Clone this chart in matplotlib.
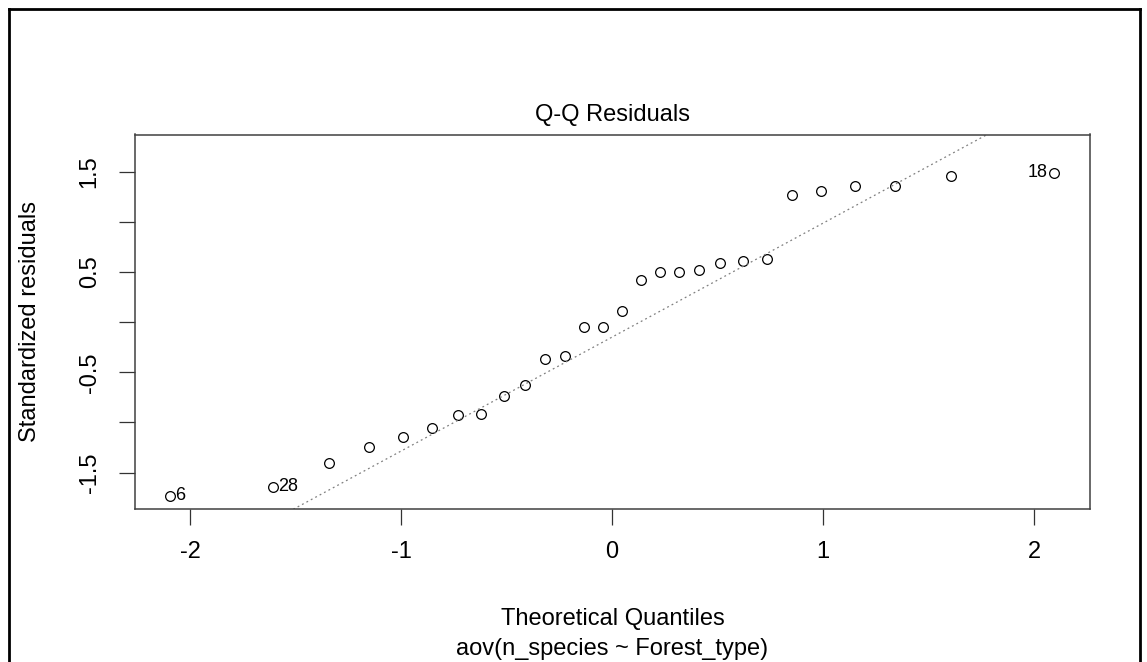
import numpy as np
import matplotlib
matplotlib.use("Agg")
import matplotlib.pyplot as plt
from matplotlib.lines import Line2D

plt.rcParams["font.family"] = ["Liberation Sans", "DejaVu Sans"]

# theoretical normal quantiles (x) and standardized residuals (y), sorted
theoretical = [-2.095, -1.608, -1.343, -1.150, -0.992, -0.854, -0.732, -0.619,
               -0.514, -0.414, -0.319, -0.225, -0.135, -0.045, 0.045, 0.135,
               0.225, 0.319, 0.414, 0.514, 0.619, 0.732, 0.854, 0.992,
               1.150, 1.343, 1.608, 2.095]
std_resid = [-1.731, -1.642, -1.408, -1.245, -1.146, -1.059, -0.926, -0.913,
             -0.737, -0.627, -0.370, -0.337, -0.045, -0.045, 0.112, 0.424,
             0.501, 0.501, 0.524, 0.591, 0.614, 0.628, 1.272, 1.312,
             1.362, 1.362, 1.462, 1.492]
# flagged observations: (index in sorted order, label, side)
flagged = [(0, "6", "right"), (1, "28", "right"), (27, "18", "left")]

xticks = [-2, -1, 0, 1, 2]
yticks = [-1.5, -1.0, -0.5, 0.0, 0.5, 1.0, 1.5]
ytick_labels = ["-1.5", "", "-0.5", "", "0.5", "", "1.5"]

W, H = 1147, 662
fig = plt.figure(figsize=(W / 100, H / 100), dpi=100)
ax = fig.add_axes([134.7 / W, 1 - 509.3 / H, (1090 - 134.7) / W, (509.3 - 134.5) / H])

ax.plot(theoretical, std_resid, linestyle="none", marker="o", markersize=7,
        markerfacecolor="none", markeredgecolor="black", markeredgewidth=0.9)

# qqline through the quartiles
q25, q75 = np.quantile(std_resid, [0.25, 0.75])
z = 0.6745
slope = (q75 - q25) / (2 * z)
intercept = q25 + slope * z
ax.axline((0, intercept), slope=slope, color="#808080", linewidth=0.9,
          linestyle=(0, (1.5, 2.5)))

for i, lab, side in flagged:
    dx = 4 if side == "right" else -5
    ax.annotate(lab, (theoretical[i], std_resid[i]), xytext=(dx, 0),
                textcoords="offset points", ha="left" if side == "right" else "right",
                va="center", fontsize=13)

ax.set_xlim(-2.262, 2.265)
ax.set_ylim(-1.867, 1.872)
ax.set_xticks(xticks)
ax.set_xticklabels([str(t) for t in xticks])
ax.set_yticks(yticks)
ax.set_yticklabels(ytick_labels)
ax.tick_params(axis="both", direction="out", length=11.5, width=0.9,
               color="#333333", labelsize=17)
ax.tick_params(axis="x", pad=11)
ax.tick_params(axis="y", pad=13, labelrotation=90)
for lbl in ax.get_yticklabels():
    lbl.set_va("center")
for sp in ax.spines.values():
    sp.set_color("#404040")
    sp.set_linewidth(1.1)

ax.set_ylabel("Standardized residuals", fontsize=17)
ax.yaxis.set_label_coords((30 - 134.7) / (1090 - 134.7), 0.5)
ax.yaxis.label.set_va("center")

fig.text(612.4 / W, 1 - 121 / H, "Q-Q Residuals", ha="center", va="baseline", fontsize=17)
fig.text(612.4 / W, 1 - 625 / H, "Theoretical Quantiles", ha="center", va="baseline", fontsize=17)
fig.text(612.4 / W, 1 - 655 / H, "aov(n_species ~ Forest_type)", ha="center", va="baseline", fontsize=17)

# outer frame of the screenshot, open at the bottom (pixel coords from top-left)
frame = [([9, 9], [662, 9]), ([9, 1140], [9, 9]), ([1140, 1140], [9, 662])]
for xs, ys in frame:
    fig.add_artist(Line2D([x / W for x in xs], [1 - y / H for y in ys],
                          color="black", linewidth=2, transform=fig.transFigure))

fig.savefig("out.png", dpi=100)
